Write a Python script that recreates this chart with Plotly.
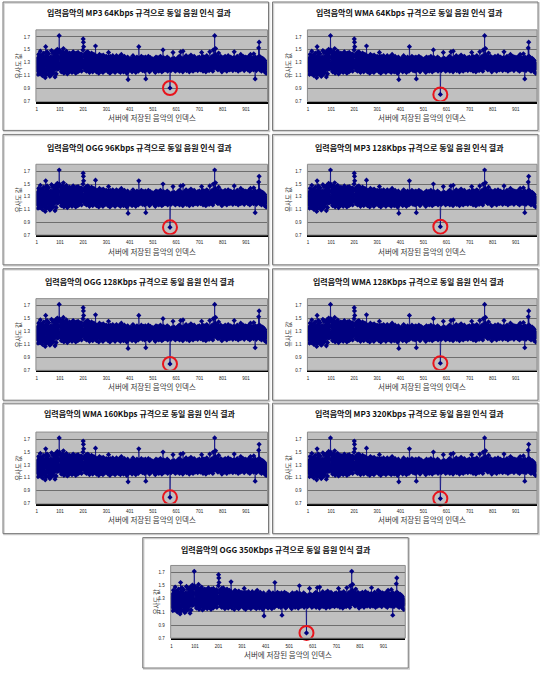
import plotly.graph_objects as go

# ---------------- data (values in hundredths) ----------------
panel_titles = [
    "입력음악의 MP3 64Kbps 규격으로 동일 음원 인식 결과",
    "입력음악의 WMA 64Kbps 규격으로 동일 음원 인식 결과",
    "입력음악의 OGG 96Kbps 규격으로 동일 음원 인식 결과",
    "입력음악의 MP3 128Kbps 규격으로 동일 음원 인식 결과",
    "입력음악의 OGG 128Kbps 규격으로 동일 음원 인식 결과",
    "입력음악의 WMA 128Kbps 규격으로 동일 음원 인식 결과",
    "입력음악의 WMA 160Kbps 규격으로 동일 음원 인식 결과",
    "입력음악의 MP3 320Kbps 규격으로 동일 음원 인식 결과",
    "입력음악의 OGG 350Kbps 규격으로 동일 음원 인식 결과",
]
x_title = "서버에 저장된 음악의 인덱스"
y_title = "유사도 값"

match_index = 574
match_values = [0.91, 0.81, 0.82, 0.83, 0.80, 0.81, 0.80, 0.78, 0.78]

x_tick_values = [1, 101, 201, 301, 401, 501, 601, 701, 801, 901]
y_tick_values = [0.7, 0.9, 1.1, 1.3, 1.5, 1.7]

seg_001 = [129,124,133,118,137,121,112,130,143,126,116,134,122,140,113,128,148,120,131,115,
           136,123,142,118,127,110,133,139,124,117,130,145,121,114,137,127,119,107,132,155,
           117,141,126,112,135,147,122,129,138,119,113,132,144,125,120,136,127,109,116,123,
           139,130,111,126,149,121,134,117,147,129,124,114,138,132,119,145,127,121,141,108,
           135,148,125,131,113,142,123,137,128,151,120,133,146,126,139,121,149,172,150,148]
seg_101 = [129,138,121,145,125,136,116,142,131,127,147,119,134,140,123,152,129,114,137,143,
           122,133,126,146,117,139,130,121,148,134,124,141,113,131,144,127,119,136,123,142,
           129,116,145,132,122,138,128,120,135,124,140,131,115,144,126,135,120,147,130,122,
           139,117,134,143,125,121,141,129,114,136,145,123,131,119,140,126,133,116,146,130,
           122,138,125,143,118,134,127,121,142,135,124,144,129,117,139,131,123,134,126,150]
seg_201 = [167,162,155,132,123,140,126,143,119,135,128,122,137,146,117,131,125,141,121,134,
           147,126,119,136,130,144,123,115,139,132,127,120,142,124,135,118,145,129,122,137,
           131,116,140,125,134,121,143,127,123,136,119,133,125,156,141,122,130,116,138,127,
           135,126,120,133,140,123,130,114,136,125,143,121,128,139,119,132,124,141,126,117,
           135,131,122,138,128,115,142,125,133,120,136,127,123,139,118,134,126,130,121,140]
seg_301 = [124,129,119,135,125,122,139,116,131,146,123,136,120,133,126,114,140,124,130,121,
           134,125,118,137,128,122,131,141,117,126,135,123,129,120,138,125,132,115,127,136,
           122,131,124,141,119,128,123,134,126,121,137,117,129,125,135,120,140,126,122,132,
           115,128,136,123,143,125,119,134,127,121,138,124,130,116,135,126,122,140,129,120,
           125,132,118,137,127,123,130,114,134,126,121,139,124,104,129,117,135,125,120,132]
seg_401 = [128,123,134,126,119,137,128,121,131,124,116,135,127,122,141,125,118,132,129,123,
           138,120,126,136,121,128,115,134,125,131,122,139,124,119,135,127,132,117,126,155,
           137,123,129,121,136,125,120,133,128,124,140,129,122,132,125,118,136,127,123,138,
           120,130,126,134,117,128,122,139,125,105,132,124,129,119,137,126,121,133,128,123,
           140,120,127,135,125,116,132,129,122,138,124,128,119,134,126,121,130,136,123,127]
seg_501 = [133,122,129,125,118,136,126,121,133,128,115,130,124,139,123,127,120,135,125,131,
           119,138,126,122,129,117,136,128,124,132,121,125,140,120,134,126,123,130,116,137,
           127,121,134,150,129,118,138,124,130,126,122,132,119,128,136,123,129,120,135,126,
           122,139,125,117,132,128,124,137,120,130,126,135,122,100,127,121,133,118,125,119,
           131,126,136,123,129,121,146,127,124,133,120,137,128,122,130,125,117,134,126,123]
seg_601 = [129,121,136,125,119,134,127,123,138,120,130,126,122,140,117,132,125,129,123,147,
           124,135,120,128,137,122,126,132,116,148,127,121,136,125,130,119,138,123,128,133,
           121,126,141,124,118,135,129,122,137,127,120,132,125,139,123,129,116,136,126,121,
           133,128,123,142,125,119,135,127,122,138,130,124,117,134,126,129,121,140,125,123,
           136,119,130,126,137,122,128,120,135,127,124,132,118,138,125,129,123,134,121,139]
seg_701 = [126,122,135,128,119,137,124,130,125,146,121,133,127,123,140,117,129,126,136,120,
           132,125,122,139,128,123,130,116,136,126,121,141,125,133,119,128,138,123,130,124,
           135,118,129,126,147,122,132,125,120,137,127,123,134,121,140,126,130,117,135,150,
           129,124,138,122,132,172,126,143,128,152,134,123,141,126,121,136,130,124,139,119,
           133,127,145,122,129,125,137,120,132,128,124,140,126,121,135,129,116,136,127,123]
seg_801 = [130,138,122,128,125,135,119,132,127,124,140,121,129,136,123,126,134,117,137,128,
           122,130,125,141,120,132,127,123,136,126,119,134,128,124,139,122,130,125,135,121,
           129,126,137,118,132,123,128,138,124,147,127,121,135,125,130,119,137,126,122,133,
           128,124,140,121,132,126,117,136,129,123,138,125,130,122,135,119,128,143,126,124,
           133,120,137,127,123,131,125,140,121,129,126,136,118,133,128,123,139,125,130,122]
seg_901 = [132,124,138,127,121,135,126,130,119,137,125,122,140,128,123,133,117,136,126,143,
           121,129,125,135,120,131,138,123,128,122,136,126,119,144,127,124,133,130,121,105,
           139,125,123,132,118,137,128,124,134,129,122,127,139,126,153,121,162,125,140,119,
           133,127,123,138,124,130,117,134,126,129,121,137,125,122,132,127,135,120,128,124,
           116,133,126,123,129,121,114,128,122,125]

similarity_hundredths = (seg_001 + seg_101 + seg_201 + seg_301 + seg_401 +
                         seg_501 + seg_601 + seg_701 + seg_801 + seg_901)
song_index = list(range(1, len(similarity_hundredths) + 1))

# ---------------- layout geometry (pixels) ----------------
W, H = 540, 673
panels = [
    dict(px=(35, 267), py=(30, 102), box=(2, 2, 268, 131), t=(139, 13), xt=(151, 118), yt=17),
    dict(px=(307, 537), py=(30, 102), box=(272, 2, 538, 131), t=(409, 13), xt=(422, 118), yt=287),
    dict(px=(35, 267), py=(165, 236), box=(2, 135, 268, 266), t=(139, 148), xt=(151, 253), yt=17),
    dict(px=(307, 537), py=(165, 236), box=(272, 135, 538, 266), t=(409, 148), xt=(422, 253), yt=287),
    dict(px=(35, 267), py=(300, 372), box=(2, 270, 268, 402), t=(139, 283), xt=(151, 388), yt=17),
    dict(px=(307, 537), py=(300, 372), box=(272, 270, 538, 402), t=(409, 283), xt=(422, 388), yt=287),
    dict(px=(35, 267), py=(434, 506), box=(2, 405, 268, 536), t=(139, 415), xt=(151, 522), yt=17),
    dict(px=(307, 537), py=(434, 506), box=(272, 405, 538, 536), t=(409, 415), xt=(422, 522), yt=287),
    dict(px=(170, 405), py=(568, 641), box=(142, 540, 408, 671), t=(276, 552), xt=(288, 657), yt=155),
]

FONT = "Noto Sans CJK KR, Noto Sans, sans-serif"
NAVY = "#000080"

fig = go.Figure()
shapes = []
annotations = []
layout_axes = {}

for i, p in enumerate(panels):
    n = i + 1
    xa = "x" if n == 1 else f"x{n}"
    ya = "y" if n == 1 else f"y{n}"
    values = [v / 100 for v in similarity_hundredths]
    values[match_index - 1] = match_values[i]

    fig.add_trace(go.Scatter(
        x=song_index, y=values, mode="lines+markers",
        line=dict(color=NAVY, width=0.7),
        marker=dict(symbol="diamond", size=4, color=NAVY),
        xaxis=xa, yaxis=ya, showlegend=False, hoverinfo="skip"))
    fig.add_trace(go.Scatter(
        x=[match_index], y=[match_values[i]], mode="markers",
        marker=dict(symbol="circle-open", size=14, color="#e8141c",
                    line=dict(width=2, color="#e8141c")),
        xaxis=xa, yaxis=ya, showlegend=False, hoverinfo="skip", cliponaxis=False))

    x0, x1 = p["px"]
    yt_, yb_ = p["py"]
    xkey = "xaxis" if n == 1 else f"xaxis{n}"
    ykey = "yaxis" if n == 1 else f"yaxis{n}"
    layout_axes[xkey] = dict(
        domain=[x0 / W, x1 / W], anchor=ya, range=[-2, 993],
        tickmode="array", tickvals=x_tick_values,
        ticktext=[str(v) for v in x_tick_values],
        tickfont=dict(size=4.5, family="Arial", color="#222"),
        showgrid=False, zeroline=False, showline=True,
        linecolor="#000000", linewidth=2, ticks="", ticklabelstandoff=2)
    layout_axes[ykey] = dict(
        domain=[1 - yb_ / H, 1 - yt_ / H], anchor=xa, range=[0.7, 1.81],
        tickmode="array", tickvals=y_tick_values,
        ticktext=[f"{v:.1f}" for v in y_tick_values],
        tickfont=dict(size=4.5, family="Arial", color="#222"),
        showgrid=True, gridcolor="#6e6e6e", gridwidth=1,
        zeroline=False, showline=False, ticks="", ticklabelstandoff=5)

    shapes.append(dict(type="rect", xref=f"{xa} domain", yref=f"{ya} domain",
                       x0=0, x1=1, y0=0, y1=1, line=dict(color="#8c8c8c", width=1),
                       layer="above"))
    bx0, by0, bx1, by1 = p["box"]
    shapes.append(dict(type="rect", xref="paper", yref="paper",
                       x0=(bx0 + 1) / W, x1=(bx1 + 1) / W, y0=1 - (by1 + 1) / H, y1=1 - (by0 + 1) / H,
                       line=dict(color="#d0d0d0", width=1.5), layer="below"))
    shapes.append(dict(type="rect", xref="paper", yref="paper",
                       x0=bx0 / W, x1=bx1 / W, y0=1 - by1 / H, y1=1 - by0 / H,
                       line=dict(color="#7a7a7a", width=1), layer="below"))

    annotations.append(dict(text=panel_titles[i], xref="paper", yref="paper",
                            x=p["t"][0] / W, y=1 - p["t"][1] / H, showarrow=False,
                            xanchor="center", yanchor="middle",
                            font=dict(family=FONT, size=8, color="#111", weight="bold")))
    annotations.append(dict(text=x_title, xref="paper", yref="paper",
                            x=p["xt"][0] / W, y=1 - p["xt"][1] / H, showarrow=False,
                            xanchor="center", yanchor="middle",
                            font=dict(family=FONT, size=7.5, color="#333")))
    annotations.append(dict(text=y_title, xref="paper", yref="paper", textangle=-90,
                            x=p["yt"] / W, y=1 - (yt_ + yb_) / 2 / H, showarrow=False,
                            xanchor="center", yanchor="middle",
                            font=dict(family=FONT, size=6.5, color="#333")))

fig.update_layout(
    width=W, height=H, margin=dict(l=0, r=0, t=0, b=0),
    paper_bgcolor="white", plot_bgcolor="#c0c0c0",
    shapes=shapes, annotations=annotations, **layout_axes)

fig.write_html("out.html")
